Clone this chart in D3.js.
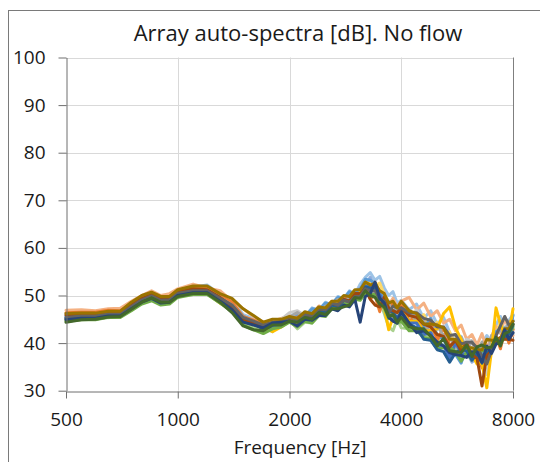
<!DOCTYPE html>
<html><head><meta charset="utf-8">
<script src="https://cdn.jsdelivr.net/npm/d3@7"></script>
<style>body{margin:0;background:#fff}svg{display:block}</style>
</head><body>
<script>
const title = "Array auto-spectra [dB]. No flow";
const xTitle = "Frequency [Hz]";
const xTicks = [500, 1000, 2000, 4000, 8000];
const yTicks = [30, 40, 50, 60, 70, 80, 90, 100];
const freqs = [500,550,600,650,700,750,800,850,900,950,1000,
  1100,1200,1300,1400,1500,1600,1700,1800,1900,2000,
  2100,2200,2300,2400,2500,2600,2700,2800,2900,3000,
  3100,3200,3300,3400,3500,3600,3700,3800,3900,4000,
  4200,4400,4600,4800,5000,5200,5400,5600,5800,6000,
  6200,6400,6600,6800,7000,7200,7400,7600,7800,8000];
const colors = ["#9DC3E6","#F4B183","#C9C9C9","#FFD966","#8FAADC","#A9D18E",
  "#5B9BD5","#ED7D31","#A5A5A5","#FFC000","#4472C4","#70AD47",
  "#255E91","#9E480E","#636363","#997300","#264478","#43682B"];
const s1 = [46.2,46.0,46.4,46.3,46.7,48.2,49.6,50.4,49.7,49.6,51.0, 51.8,52.2,50.2,48.9,46.0,45.2,43.8,42.4,44.6,45.6, 46.4,45.6,47.4,46.8,48.6,48.0,49.8,49.2,51.0,50.2, 52.4,53.8,54.8,53.2,54.0,51.6,50.0,50.8,48.4,49.0, 47.0,48.2,45.2,46.8,44.0,45.4,42.2,39.6,41.4,38.8, 40.4,37.8,39.8,41.6,40.2,43.8,45.6,42.2,44.8,46.0];
const s2 = [46.9,47.0,46.8,47.2,47.3,48.8,50.0,51.0,50.0,50.4,51.4, 52.4,51.6,51.0,48.8,47.2,45.6,44.4,44.6,45.2,45.8, 45.0,46.4,46.0,47.8,47.2,48.6,48.2,49.6,49.0,50.8, 50.2,52.4,51.6,52.8,49.6,50.6,48.0,49.4,47.6,48.8, 49.6,47.0,48.4,45.6,46.8,44.2,45.0,42.6,43.8,40.8, 41.8,39.6,42.0,38.8,41.4,43.6,42.0,45.2,43.0,41.6];
const s3 = [45.8,46.1,46.1,46.5,46.4,47.9,49.3,50.0,49.2,49.2,50.6, 51.4,51.4,49.6,47.8,45.2,44.2,43.4,43.8,45.0,46.4, 46.8,45.8,46.6,46.0,47.4,48.6,47.6,48.8,49.8,49.0, 50.4,50.8,52.0,50.0,49.6,47.4,48.0,45.8,47.6,46.2, 45.4,47.0,44.0,45.2,42.8,43.6,40.6,41.8,38.8,40.8, 40.4,38.2,36.8,33.4,39.0,41.8,43.2,42.4,44.6,43.0];
const s4 = [45.0,45.3,45.2,45.6,45.6,47.1,48.6,49.3,48.6,48.8,50.2, 50.8,50.8,49.0,47.4,44.8,43.8,42.8,43.4,43.6,44.6, 44.2,45.2,44.8,46.6,46.2,47.6,47.2,48.6,48.0,49.8, 50.8,51.8,53.4,52.0,52.6,50.2,48.8,48.0,46.6,48.2, 46.4,44.2,46.0,42.8,44.4,41.0,42.4,39.0,39.8,37.6, 39.0,37.4,38.6,37.0,40.6,41.8,44.4,42.2,41.0,43.8];
const s5 = [45.2,45.5,45.5,45.9,46.0,47.4,48.8,49.7,48.8,49.0,50.4, 51.0,51.1,49.2,47.5,44.8,44.0,43.0,44.4,43.8,44.8, 45.6,45.2,46.8,46.6,48.2,47.4,49.0,49.8,48.8,50.4, 51.6,52.2,53.8,51.4,50.8,48.4,48.8,46.6,46.0,46.8, 44.6,44.2,42.2,42.6,41.4,41.8,38.8,39.4,36.4,38.2, 36.0,36.8,35.6,38.8,38.6,41.6,39.6,42.4,42.0,44.8];
const s6 = [44.7,45.0,45.3,45.3,45.7,46.9,48.4,49.1,48.2,48.4,49.8, 50.4,50.4,48.4,46.6,44.0,43.2,42.4,43.6,43.8,44.8, 43.0,44.4,44.2,45.8,45.8,47.4,47.0,48.6,48.2,50.0, 49.6,51.8,51.4,50.2,49.0,46.2,43.4,42.6,45.0,43.2, 43.0,42.8,42.2,40.6,41.0,39.2,38.8,39.8,37.4,37.8, 36.4,38.4,36.8,39.2,39.2,41.2,40.6,40.8,41.0,43.0];
const s7 = [45.6,45.8,46.0,46.3,46.3,47.9,49.4,50.1,49.4,49.4,50.8, 51.6,51.4,49.8,48.4,45.6,44.6,43.6,42.8,44.2,45.2, 45.8,45.6,47.2,47.0,48.4,48.2,49.6,49.4,50.8,50.4, 51.2,53.4,53.2,52.6,50.2,50.0,47.0,46.6,47.4,47.6, 46.0,45.6,43.2,45.2,41.6,40.8,38.0,37.6,35.8,39.4, 36.6,37.0,37.8,38.2,39.6,42.4,43.0,43.2,42.6,45.8];
const s8 = [46.4,46.5,46.5,46.9,46.8,48.4,49.7,50.5,49.6,49.7,51.1, 51.8,51.6,50.0,48.6,45.6,44.8,44.0,44.2,44.4,45.2, 45.4,46.2,46.0,47.4,47.2,48.8,48.4,49.4,49.2,50.4, 50.4,51.8,49.4,50.0,46.6,49.8,47.6,48.6,47.0,48.2, 44.6,45.8,41.8,44.4,40.6,43.2,39.6,39.8,38.2,38.8, 37.4,38.6,34.8,38.8,38.6,41.6,38.8,42.6,40.0,42.8];
const s9 = [45.8,46.0,46.0,46.4,46.3,47.8,49.2,50.0,49.1,49.2,50.5, 51.2,51.1,49.6,48.0,45.4,44.4,43.6,44.4,44.4,45.4, 46.4,45.4,46.2,46.2,47.8,47.6,49.2,48.2,49.6,49.0, 50.6,50.4,52.0,50.2,50.2,48.0,48.4,45.8,47.4,46.8, 47.0,44.4,44.6,42.0,44.0,41.4,41.2,39.2,41.2,38.4, 40.4,37.8,40.2,36.6,41.6,41.8,42.6,42.4,44.6,42.0];
const s10 = [45.0,45.2,45.1,45.5,45.5,47.4,48.8,49.7,48.6,48.8,50.2, 50.6,50.4,48.4,47.0,44.6,44.0,43.2,42.4,43.4,44.6, 44.2,45.4,45.0,46.4,46.2,47.6,47.6,49.0,48.8,50.2, 50.6,52.8,52.4,52.0,49.0,47.6,42.8,45.4,45.2,46.6, 44.6,44.6,42.6,42.6,43.0,46.2,47.6,43.2,40.8,37.8, 37.6,35.6,35.8,30.6,38.4,47.4,44.0,41.6,42.0,47.2];
const s11 = [45.3,45.5,45.6,46.0,46.0,47.6,49.0,49.8,48.9,49.0,50.4, 51.0,51.0,49.2,47.6,45.0,44.2,43.4,43.2,44.0,45.0, 44.6,45.8,45.6,47.0,46.8,48.0,47.8,49.2,48.6,50.0, 50.0,52.0,51.8,52.2,50.2,48.6,45.4,45.0,45.6,45.6, 44.2,44.2,41.8,42.2,39.4,39.4,37.0,40.0,38.0,37.4, 37.2,37.0,36.2,38.6,38.2,40.2,40.4,42.8,43.0,44.6];
const s12 = [44.6,44.9,44.9,45.4,45.4,46.8,48.2,48.9,48.0,48.2,49.6, 50.2,50.2,48.4,46.8,43.8,42.8,42.0,43.0,43.4,44.4, 43.4,44.6,44.2,45.8,45.6,47.2,47.0,48.4,48.0,49.2, 49.0,50.4,50.2,50.2,48.0,47.4,45.2,46.4,44.2,44.6, 42.6,42.6,41.2,40.8,38.8,39.0,39.2,38.2,36.2,38.0, 38.0,37.4,38.4,38.4,39.0,41.0,39.8,41.8,41.6,43.4];
const s13 = [45.1,45.4,45.4,45.9,45.9,47.5,48.9,49.6,48.8,48.9,50.3, 50.8,50.8,49.0,47.2,44.6,44.0,43.0,43.8,44.4,45.2, 44.4,45.8,45.6,46.8,46.6,48.0,47.6,49.0,48.8,50.0, 50.0,51.8,51.6,51.6,49.2,48.8,46.6,46.6,45.0,46.6, 44.0,43.2,40.8,40.6,38.6,38.2,36.0,38.0,38.6,38.4, 36.4,37.8,35.8,38.2,38.2,40.4,40.8,41.0,42.0,43.8];
const s14 = [45.9,46.1,46.1,46.5,46.4,48.0,49.4,50.2,49.2,49.3,50.7, 51.4,51.2,49.6,47.8,45.0,44.2,43.4,44.0,44.2,45.0, 44.8,46.0,45.8,47.2,47.0,48.4,48.0,49.2,48.8,50.4, 50.4,51.4,49.2,48.0,47.6,49.6,47.4,46.8,46.4,47.4, 45.8,45.4,44.0,43.4,41.8,41.4,39.2,40.6,38.4,40.0, 37.6,36.8,31.0,37.4,38.4,40.6,41.2,40.8,40.8,40.6];
const s15 = [45.4,45.7,45.7,46.1,46.1,47.7,49.1,49.9,49.0,49.1,50.5, 51.0,51.0,49.4,48.0,45.4,44.6,43.8,44.4,44.6,45.4, 44.6,46.0,45.8,47.2,47.0,48.4,48.0,49.0,48.6,49.8, 49.8,51.4,51.0,51.0,49.4,48.8,46.2,47.8,47.4,47.4, 46.4,46.4,45.2,44.8,43.4,43.4,41.6,41.8,39.8,40.2, 40.2,39.0,37.4,35.6,38.4,41.6,43.6,45.6,43.8,44.0];
const s16 = [46.2,46.3,46.3,46.7,46.7,48.6,50.0,50.7,49.8,49.8,51.2, 52.0,52.0,50.4,49.4,47.2,45.8,44.4,45.0,45.0,45.6, 45.2,46.6,46.2,47.6,47.4,48.8,48.8,50.0,49.8,51.2, 51.2,52.8,52.2,52.6,51.0,50.4,48.4,48.8,47.4,48.8, 46.8,46.2,44.0,44.0,43.8,43.2,40.8,40.8,39.2,39.0, 39.0,38.6,38.6,40.8,40.6,40.6,41.0,43.0,43.0,44.6];
const s17 = [44.9,45.2,45.2,45.7,45.7,47.2,48.6,49.4,48.4,48.6,50.0, 50.6,50.6,48.8,47.0,44.4,43.8,43.2,44.2,44.4,44.6, 43.6,45.0,44.8,45.8,45.8,47.2,46.8,48.0,47.6,49.2, 44.4,49.8,50.4,52.8,49.4,48.4,45.4,44.6,44.2,46.6, 44.2,42.2,42.6,41.6,40.2,39.4,38.0,37.6,37.4,37.0, 38.2,38.2,36.0,39.4,37.8,39.8,40.2,42.8,40.8,42.2];
const s18 = [44.4,44.9,45.0,45.5,45.6,47.1,48.6,49.5,48.6,48.6,49.8, 50.4,50.4,48.6,46.4,43.6,42.8,42.6,43.8,43.8,44.6, 44.4,45.4,45.0,46.4,46.0,47.2,47.2,47.6,48.0,49.6, 49.4,51.0,50.0,49.6,48.2,47.6,45.6,46.0,44.4,45.4, 43.4,43.0,43.0,41.4,39.4,41.0,38.4,38.2,38.0,39.6, 37.2,39.2,39.6,39.0,39.2,41.2,39.4,42.0,42.4,44.0];
const seriesValues = [s1,s2,s3,s4,s5,s6,s7,s8,s9,s10,s11,s12,s13,s14,s15,s16,s17,s18];

const W = 540, H = 462;
const svg = d3.select("body").append("svg").attr("width", W).attr("height", H);
svg.append("rect").attr("width", W).attr("height", H).attr("fill", "#fff");
svg.append("rect").attr("x", 8.5).attr("y", 10.5).attr("width", W + 20).attr("height", H + 20)
  .attr("fill", "none").attr("stroke", "#7a7a7a").attr("stroke-width", 1);

const x = d3.scaleLog().base(2).domain([500, 8000]).range([66, 513]);
const y = d3.scaleLinear().domain([30, 100]).range([390.7, 57.5]);
const font = "'Open Sans', sans-serif";

svg.append("g").selectAll("line").data(yTicks.filter(d => d > 30)).join("line")
  .attr("x1", x(500)).attr("x2", x(8000)).attr("y1", d => Math.round(y(d)) + 0.5).attr("y2", d => Math.round(y(d)) + 0.5)
  .attr("stroke", "#d9d9d9").attr("stroke-width", 1);
svg.append("g").selectAll("line").data(xTicks.filter(d => d > 500 && d < 8000)).join("line")
  .attr("x1", d => Math.round(x(d)) + 0.5).attr("x2", d => Math.round(x(d)) + 0.5).attr("y1", y(100)).attr("y2", y(30))
  .attr("stroke", "#d9d9d9").attr("stroke-width", 1);
svg.append("line").attr("x1", Math.round(x(8000)) + 0.5).attr("x2", Math.round(x(8000)) + 0.5)
  .attr("y1", y(100)).attr("y2", y(30)).attr("stroke", "#7f7f7f");

const line = d3.line().x((d, i) => x(freqs[i])).y(d => y(d));
svg.append("g").selectAll("path").data(seriesValues).join("path")
  .attr("d", d => line(d)).attr("fill", "none")
  .attr("stroke", (d, i) => colors[i]).attr("stroke-width", 3)
  .attr("stroke-linejoin", "round").attr("stroke-linecap", "round");

const yAxis = svg.append("g").attr("transform", `translate(${Math.round(x(500)) + 0.5},0)`)
  .call(d3.axisLeft(y).tickValues(yTicks).tickSize(8).tickPadding(13).tickSizeOuter(0));
const xAxis = svg.append("g").attr("transform", `translate(0,${Math.round(y(30)) + 0.5})`)
  .call(d3.axisBottom(x).tickValues(xTicks).tickFormat(d3.format("d")).tickSize(7).tickPadding(14).tickSizeOuter(0));
[yAxis, xAxis].forEach(a => {
  a.select(".domain").attr("stroke", "#6f6f6f");
  a.selectAll(".tick line").attr("stroke", "#6f6f6f");
  a.selectAll("text").attr("font-family", font).attr("font-size", 19).attr("fill", "#1a1a1a");
});

svg.append("text").attr("x", 298).attr("y", 41).attr("text-anchor", "middle")
  .attr("font-family", font).attr("font-size", 22).attr("fill", "#1a1a1a").text(title);
svg.append("text").attr("x", 300).attr("y", 454).attr("text-anchor", "middle")
  .attr("font-family", font).attr("font-size", 19).attr("fill", "#1a1a1a").text(xTitle);
</script>
</body></html>
